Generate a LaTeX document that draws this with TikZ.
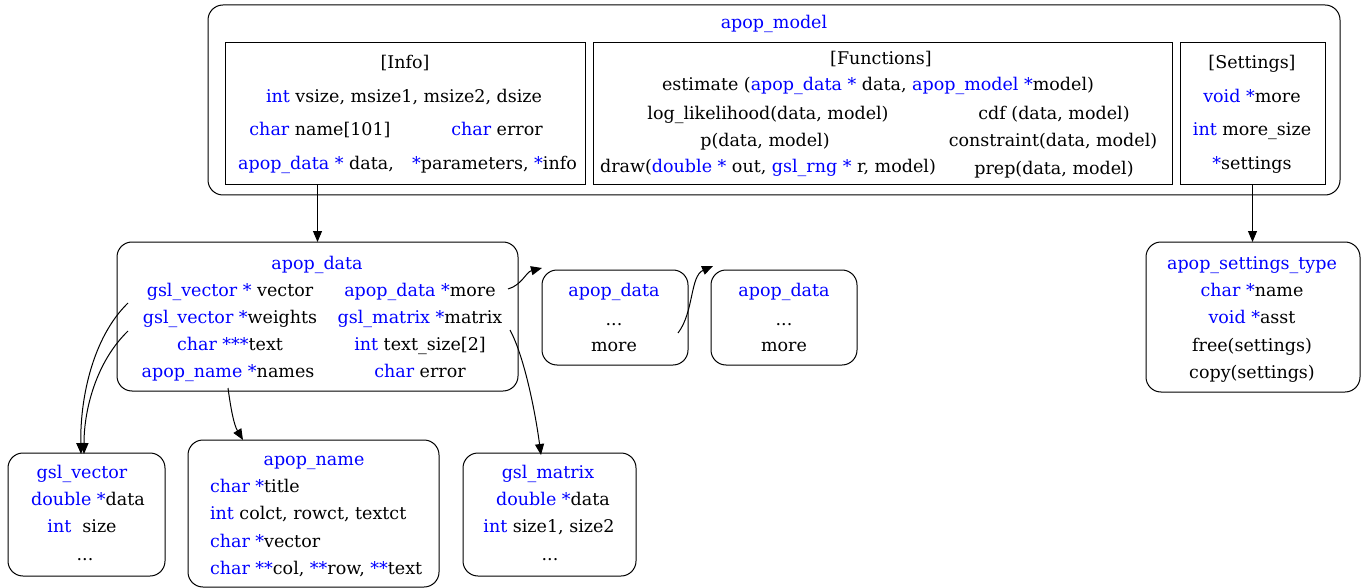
\documentclass[tikz,border=0pt]{standalone}
\usepackage{fontspec}
\setmainfont{DejaVu Serif}
\usetikzlibrary{arrows.meta}
\definecolor{kw}{RGB}{0,0,255}
\newcommand\bl[1]{\textcolor{kw}{#1}}
\begin{document}
\begin{tikzpicture}[x=1pt,y=-1pt,
  every node/.style={inner sep=0pt, outer sep=0pt},
  txt/.style={font=\fontsize{17.5}{20}\selectfont, text height=9pt, text depth=0pt, yshift=-2.5pt},
  rbox/.style={draw, line width=1pt, rounded corners=15pt},
  sbox/.style={draw, line width=1pt},
  arr/.style={line width=1pt, -{Triangle[length=11pt,width=9pt]}}]
\useasboundingbox (0,0) rectangle (1365,588);
% boxes
\node[rbox, minimum width=1132pt, minimum height=190pt] (model) at (774,100) {};
\node[sbox, minimum width=360pt, minimum height=142pt] (info) at (405,114) {};
\node[sbox, minimum width=579pt, minimum height=142pt] (func) at (882.5,114) {};
\node[sbox, minimum width=145pt, minimum height=142pt] (sett) at (1252.5,114) {};
\node[rbox, minimum width=401pt, minimum height=149pt] (data) at (317.5,316.5) {};
\node[rbox, minimum width=146pt, minimum height=95pt] (more1) at (615,317.5) {};
\node[rbox, minimum width=146pt, minimum height=95pt] (more2) at (784,317.5) {};
\node[rbox, minimum width=157pt, minimum height=123pt] (vec) at (86.5,514.5) {};
\node[rbox, minimum width=251pt, minimum height=147pt] (name) at (313.5,513.5) {};
\node[rbox, minimum width=173pt, minimum height=123pt] (mat) at (549.5,514.5) {};
\node[rbox, minimum width=214pt, minimum height=150pt] (stype) at (1253,317) {};
% model texts
\node[txt] (tmodel) at (774,22) {\bl{apop\_model}};
\node[txt] (i0) at (405,62) {[Info]};
\node[txt] (i1) at (404,96) {\bl{int} vsize, msize1, msize2, dsize};
\node[txt] (i2) at (320,129) {\bl{char} name[101]};
\node[txt] (i3) at (497,129) {\bl{char} error};
\node[txt] (i4) at (316,163) {\bl{apop\_data *} data,};
\node[txt] (i5) at (494.5,163) {\bl{*}parameters, \bl{*}info};
\node[txt] (f0) at (881,58) {[Functions]};
\node[txt] (f1) at (878,84) {estimate (\bl{apop\_data *} data, \bl{apop\_model *}model)};
\node[txt] (f2) at (768,113) {log\_likelihood(data, model)};
\node[txt] (f3) at (1054,113) {cdf (data, model)};
\node[txt] (f4) at (765,140) {p(data, model)};
\node[txt] (f5) at (1053,140) {constraint(data, model)};
\node[txt] (f6) at (768,166) {draw(\bl{double *} out, \bl{gsl\_rng *} r, model)};
\node[txt] (f7) at (1054,168) {prep(data, model)};
\node[txt] (s0) at (1252,62) {[Settings]};
\node[txt] (s1) at (1252,96) {\bl{void *}more};
\node[txt] (s2) at (1252,129) {\bl{int} more\_size};
\node[txt] (s3) at (1252,163) {\bl{*}settings};
% apop_data texts
\node[txt] (d0) at (317,262) {\bl{apop\_data}};
\node[txt] (d1) at (230,289) {\bl{gsl\_vector *} vector};
\node[txt] (d2) at (230,316) {\bl{gsl\_vector *}weights};
\node[txt] (d3) at (230,343) {\bl{char ***}text};
\node[txt] (d4) at (228,370) {\bl{apop\_name *}names};
\node[txt] (d5) at (420,289) {\bl{apop\_data *}more};
\node[txt] (d6) at (420,316) {\bl{gsl\_matrix *}matrix};
\node[txt] (d7) at (420,343) {\bl{int} text\_size[2]};
\node[txt] (d8) at (420,370) {\bl{char} error};
% small apop_data
\node[txt] (m10) at (614,289) {\bl{apop\_data}};
\node[txt] (m11) at (614,318) {...};
\node[txt] (m12) at (614,344) {more};
\node[txt] (m20) at (784,289) {\bl{apop\_data}};
\node[txt] (m21) at (784,318) {...};
\node[txt] (m22) at (784,344) {more};
% gsl_vector
\node[txt] (v0) at (82,471) {\bl{gsl\_vector}};
\node[txt] (v1) at (88,498) {\bl{double *}data};
\node[txt] (v2) at (82,525) {\bl{int} \ size};
\node[txt] (v3) at (85,553) {...};
% apop_name
\node[txt] (n0) at (314,458) {\bl{apop\_name}};
\node[txt, anchor=west] (n1) at (210,485) {\bl{char *}title};
\node[txt, anchor=west] (n2) at (210,512) {\bl{int} colct, rowct, textct};
\node[txt, anchor=west] (n3) at (210,540) {\bl{char *}vector};
\node[txt, anchor=west] (n4) at (210,567) {\bl{char **}col, \bl{**}row, \bl{**}text};
% gsl_matrix
\node[txt] (x0) at (548,471) {\bl{gsl\_matrix}};
\node[txt] (x1) at (553,498) {\bl{double *}data};
\node[txt] (x2) at (549,525) {\bl{int} size1, size2};
\node[txt] (x3) at (550,553) {...};
% settings type
\node[txt] (t0) at (1252,262) {\bl{apop\_settings\_type}};
\node[txt] (t1) at (1252,289) {\bl{char *}name};
\node[txt] (t2) at (1252,316) {\bl{void *}asst};
\node[txt] (t3) at (1252,344) {free(settings)};
\node[txt] (t4) at (1252,371) {copy(settings)};
% connector end points
\coordinate (cMoreA) at (508,289);
\coordinate (cMoreAt) at (542,268);
\coordinate (cMoreB) at (678,333);
\coordinate (cMoreBt) at (713,266);
\coordinate (cV1) at (128,303);
\coordinate (cV2) at (128,331);
\coordinate (cVt1) at (81,454);
\coordinate (cVt2) at (84,454);
\coordinate (cN) at (228,388);
\coordinate (cNt) at (243,440);
\coordinate (cM) at (510,330);
\coordinate (cMt) at (541,455);
% connectors
\draw[arr] (info.south -| data.north) -- (data.north);
\draw[arr] (sett.south) -- (stype.north -| sett.south);
\draw[arr] (cMoreA) .. controls (522,285) and (526,272) .. (cMoreAt);
\draw[arr] (cMoreB) .. controls (694,312) and (690,276) .. (cMoreBt);
\draw[arr] (cV1) .. controls (92,338) and (80,400) .. (cVt1);
\draw[arr] (cV2) .. controls (96,362) and (84,410) .. (cVt2);
\draw[arr] (cN) .. controls (231,410) and (234,425) .. (cNt);
\draw[arr] (cM) .. controls (524,356) and (535,410) .. (cMt);
\end{tikzpicture}
\end{document}
